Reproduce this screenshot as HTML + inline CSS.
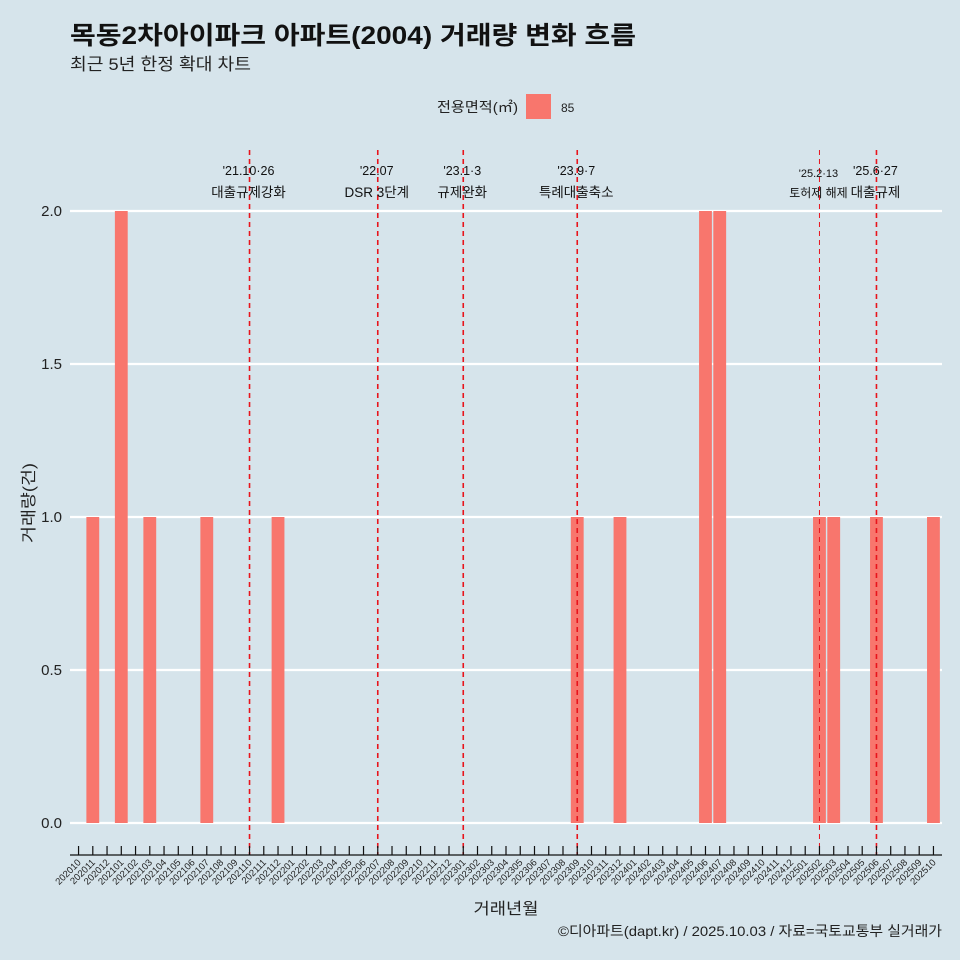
<!DOCTYPE html>
<html><head><meta charset="utf-8">
<style>
html,body{margin:0;padding:0;background:#d6e4eb;}
svg{display:block;font-family:"Liberation Sans","Noto Sans CJK KR",sans-serif;}
</style></head>
<body>
<svg id="chart" width="960" height="960" viewBox="0 0 960 960">
<rect width="960" height="960" fill="#d6e4eb"/>
<text x="70" y="44" font-size="25" font-weight="bold" fill="#111" textLength="566" lengthAdjust="spacingAndGlyphs">목동2차아이파크 아파트(2004) 거래량 변화 흐름</text>
<text x="70" y="70" font-size="17" fill="#222" textLength="181" lengthAdjust="spacingAndGlyphs">최근 5년 한정 확대 차트</text>
<g>
<text x="437" y="112" font-size="14" fill="#222" textLength="81" lengthAdjust="spacingAndGlyphs">전용면적(㎡)</text>
<rect x="526" y="94" width="25" height="25" fill="#F8766D"/>
<text x="561" y="112" font-size="12" fill="#222">85</text>
</g>
<g id="grid"></g><g id="bars"></g><g id="events"></g><g id="axes"></g>
<text x="506" y="914" font-size="16" text-anchor="middle" fill="#222" textLength="65" lengthAdjust="spacingAndGlyphs">거래년월</text>
<text transform="translate(34,503) rotate(-90)" font-size="16" text-anchor="middle" fill="#222" textLength="80" lengthAdjust="spacingAndGlyphs">거래량(건)</text>
<text x="942" y="936" font-size="14" text-anchor="end" fill="#222" textLength="384" lengthAdjust="spacingAndGlyphs">©디아파트(dapt.kr) / 2025.10.03 / 자료=국토교통부 실거래가</text>
</svg>
<script>
const categories=[];
for(let y=2020,m=10;y<2025||(y===2025&&m<=10);){categories.push(''+y+(m<10?'0':'')+m);m++;if(m>12){m=1;y++;}}
const barMonths=['202011','202101','202103','202107','202112','202309','202312','202406','202407','202502','202503','202506','202510'];
const barValues=[1,2,1,1,1,1,1,2,2,1,1,1,1];
const yTicks=[0,0.5,1,1.5,2];
const yTickLabels=['0.0','0.5','1.0','1.5','2.0'];
const eventMonths=['202110','202207','202301','202309','202502','202506'];
const eventDates=["'21.10·26","'22.07","'23.1·3","'23.9·7","'25.2·13","'25.6·27"];
const eventLabels=['대출규제강화','DSR 3단계','규제완화','특례대출축소','토허제 해제','대출규제'];

const NS='http://www.w3.org/2000/svg';
const L=70,R=942,T=150,B=855;
const step=(R-L)/(categories.length-1+1.2);
function xPos(c){return L+step*0.6+categories.indexOf(c)*step;}
function yPos(v){return 823-v*306;}
function mk(tag,attrs,parent){const e=document.createElementNS(NS,tag);for(const k in attrs)e.setAttribute(k,attrs[k]);parent.appendChild(e);return e;}
const grid=document.getElementById('grid'),bars=document.getElementById('bars'),ev=document.getElementById('events'),ax=document.getElementById('axes');
yTicks.forEach((t,i)=>{
 const g=mk('line',{x1:L,x2:R,y1:yPos(t),y2:yPos(t),stroke:'#fff','stroke-width':2.2},grid);
 
 
 const tx=mk('text',{x:62,y:yPos(t)+5,'font-size':15,'text-anchor':'end',fill:'#222'},ax);
 tx.textContent=yTickLabels[i];
 
 
});
barMonths.forEach((c,i)=>{
 const w=step*0.9;
 const r=mk('rect',{x:xPos(c)-w/2,y:yPos(barValues[i]),width:w,height:yPos(0)-yPos(barValues[i]),fill:'#F8766D'},bars);
 
 
});
eventMonths.forEach((c,i)=>{
 const x=xPos(c);
 const small=(c==='202502');
 const l=mk('line',{x1:x,x2:x,y1:T,y2:B,stroke:'#e8141c','stroke-width':small?1:1.6,'stroke-dasharray':'5,4'},ev);
 
 
 const t1=mk('text',{x:x-1,y:small?177:175,'font-size':small?11:12.5,'text-anchor':'middle',fill:'#111'},ev);
 t1.textContent=eventDates[i];
 
 
 const t2=mk('text',{x:x-1,y:197,'font-size':small?12:13.5,'text-anchor':'middle',fill:'#111'},ev);
 t2.textContent=eventLabels[i];
 
 
});
const axl=mk('line',{x1:L,x2:R,y1:B,y2:B,stroke:'#111','stroke-width':1.2},ax);


categories.forEach(c=>{
 const x=xPos(c);
 const tk=mk('line',{x1:x,x2:x,y1:B-9,y2:B,stroke:'#111','stroke-width':1.2},ax);
 
 
 const t=mk('text',{transform:'translate('+(x+3)+','+(B+8)+') rotate(-45)','font-size':9.5,'text-anchor':'end',fill:'#222'},ax);
 t.textContent=c;
 
 
});
</script>
</body></html>
